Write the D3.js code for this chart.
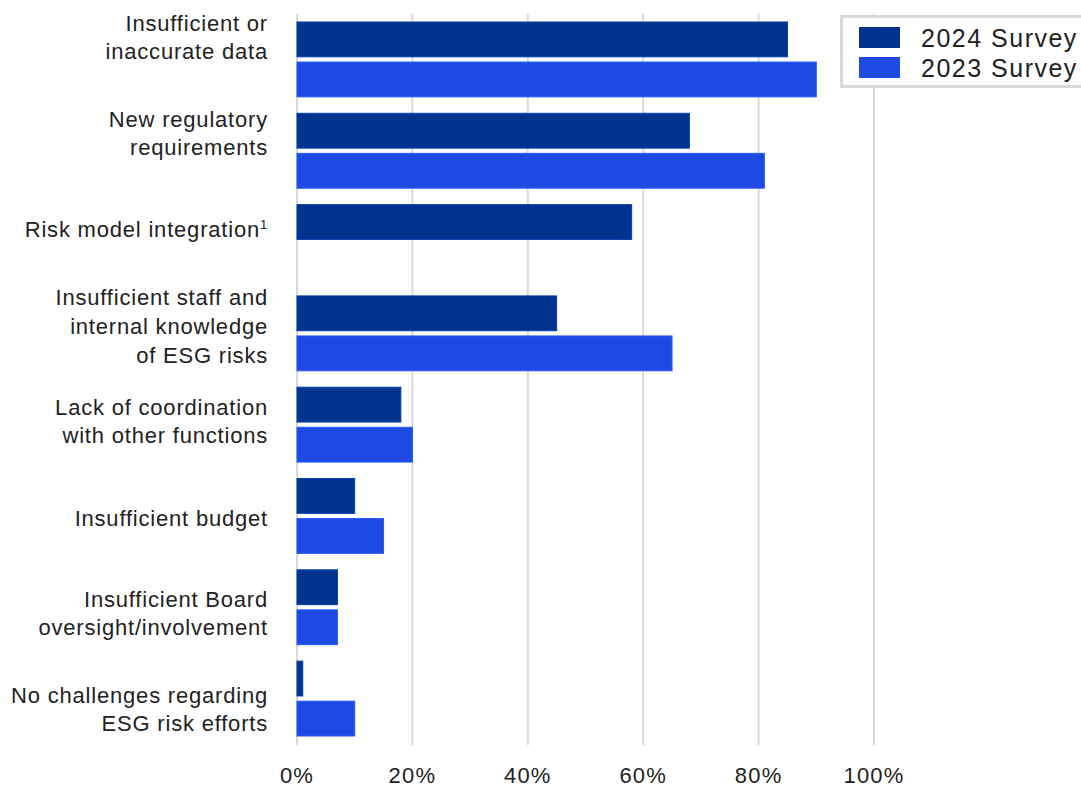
<!DOCTYPE html>
<html>
<head>
<meta charset="utf-8">
<script src="https://cdn.jsdelivr.net/npm/d3@7/dist/d3.min.js"></script>
<style>
  html, body { margin: 0; padding: 0; background: #fff; }
  svg { display: block; font-family: "Liberation Sans", Arial, sans-serif; }
</style>
</head>
<body>
<svg id="chart" width="1081" height="787"></svg>
<script>
// Challenges in ESG risk efforts, share of respondents
const categories = [
  "Insufficient or\ninaccurate data",
  "New regulatory\nrequirements",
  "Risk model integration¹",
  "Insufficient staff and\ninternal knowledge\nof ESG risks",
  "Lack of coordination\nwith other functions",
  "Insufficient budget",
  "Insufficient Board\noversight/involvement",
  "No challenges regarding\nESG risk efforts"
];
const survey2024 = [85, 68, 58, 45, 18, 10, 7, 1];
const survey2023 = [90, 81, null, 65, 20, 15, 7, 10];
const seriesNames = ["2024 Survey", "2023 Survey"];
const xTicks = [0, 20, 40, 60, 80, 100];

// Layout
const colors = { "2024 Survey": "#00338D", "2023 Survey": "#1E49E2" };
const labelCenter = [37, 133, 229, 326, 421, 518, 613, 709];

const svg = d3.select("#chart");

const x = d3.scaleLinear().domain([0, 100]).range([297, 874]);
const y = d3.scaleBand().domain(categories).range([22, 736]).paddingInner(0.18);
const ySub = d3.scaleBand().domain(seriesNames).range([0, y.bandwidth()]).paddingInner(0.13);

// Gridlines
svg.append("g")
  .selectAll("line")
  .data(xTicks)
  .join("line")
  .attr("x1", d => x(d)).attr("x2", d => x(d))
  .attr("y1", 14).attr("y2", 745)
  .attr("stroke", "#d9d9d9")
  .attr("stroke-width", 2);

// Tick labels
svg.append("g")
  .selectAll("text")
  .data(xTicks)
  .join("text")
  .attr("x", d => x(d))
  .attr("y", 783)
  .attr("text-anchor", "middle")
  .attr("font-size", 22)
  .attr("letter-spacing", 1.2)
  .attr("fill", "#222")
  .text(d => d + "%");

// Bars
const rows = categories.map((c, i) => ({ c, values: [
  { s: "2024 Survey", v: survey2024[i] },
  { s: "2023 Survey", v: survey2023[i] }
]}));

const groups = svg.append("g")
  .selectAll("g")
  .data(rows)
  .join("g")
  .attr("transform", d => `translate(0,${y(d.c)})`);

groups.selectAll("rect")
  .data(d => d.values.filter(v => v.v != null))
  .join("rect")
  .attr("x", x(0))
  .attr("y", d => ySub(d.s))
  .attr("width", d => x(d.v) - x(0))
  .attr("height", ySub.bandwidth())
  .attr("fill", d => colors[d.s])
  .attr("stroke", d => d3.color(colors[d.s]).brighter(0.6))
  .attr("stroke-width", 1);

// Category labels
const lineH = 28.8;
svg.append("g")
  .selectAll("text")
  .data(categories)
  .join("text")
  .attr("text-anchor", "end")
  .attr("font-size", 22)
  .attr("letter-spacing", 0.8)
  .attr("fill", "#222")
  .each(function(d, i) {
    const lines = d.split("\n");
    const t = d3.select(this);
    const top = labelCenter[i] - (lines.length - 1) * lineH / 2;
    lines.forEach((ln, j) => {
      t.append("tspan")
        .attr("x", 268)
        .attr("y", top + j * lineH + 8)
        .text(ln.replace("¹", ""))
        .filter(() => ln.includes("¹"))
        .append("tspan")
        .attr("font-size", 13)
        .attr("dy", -8)
        .text("1");
    });
  });

// Legend
const legend = svg.append("g");
legend.append("rect")
  .attr("x", 841.5).attr("y", 16.5)
  .attr("width", 260).attr("height", 70)
  .attr("fill", "#fff")
  .attr("stroke", "#d9d9d9")
  .attr("stroke-width", 3);
seriesNames.forEach((s, i) => {
  legend.append("rect")
    .attr("x", 859).attr("y", 27 + i * 30)
    .attr("width", 41).attr("height", 21)
    .attr("fill", colors[s]);
  legend.append("text")
    .attr("x", 921).attr("y", 47 + i * 30)
    .attr("font-size", 25)
    .attr("letter-spacing", 1.5)
    .attr("fill", "#222")
    .text(s);
});
</script>
</body>
</html>
